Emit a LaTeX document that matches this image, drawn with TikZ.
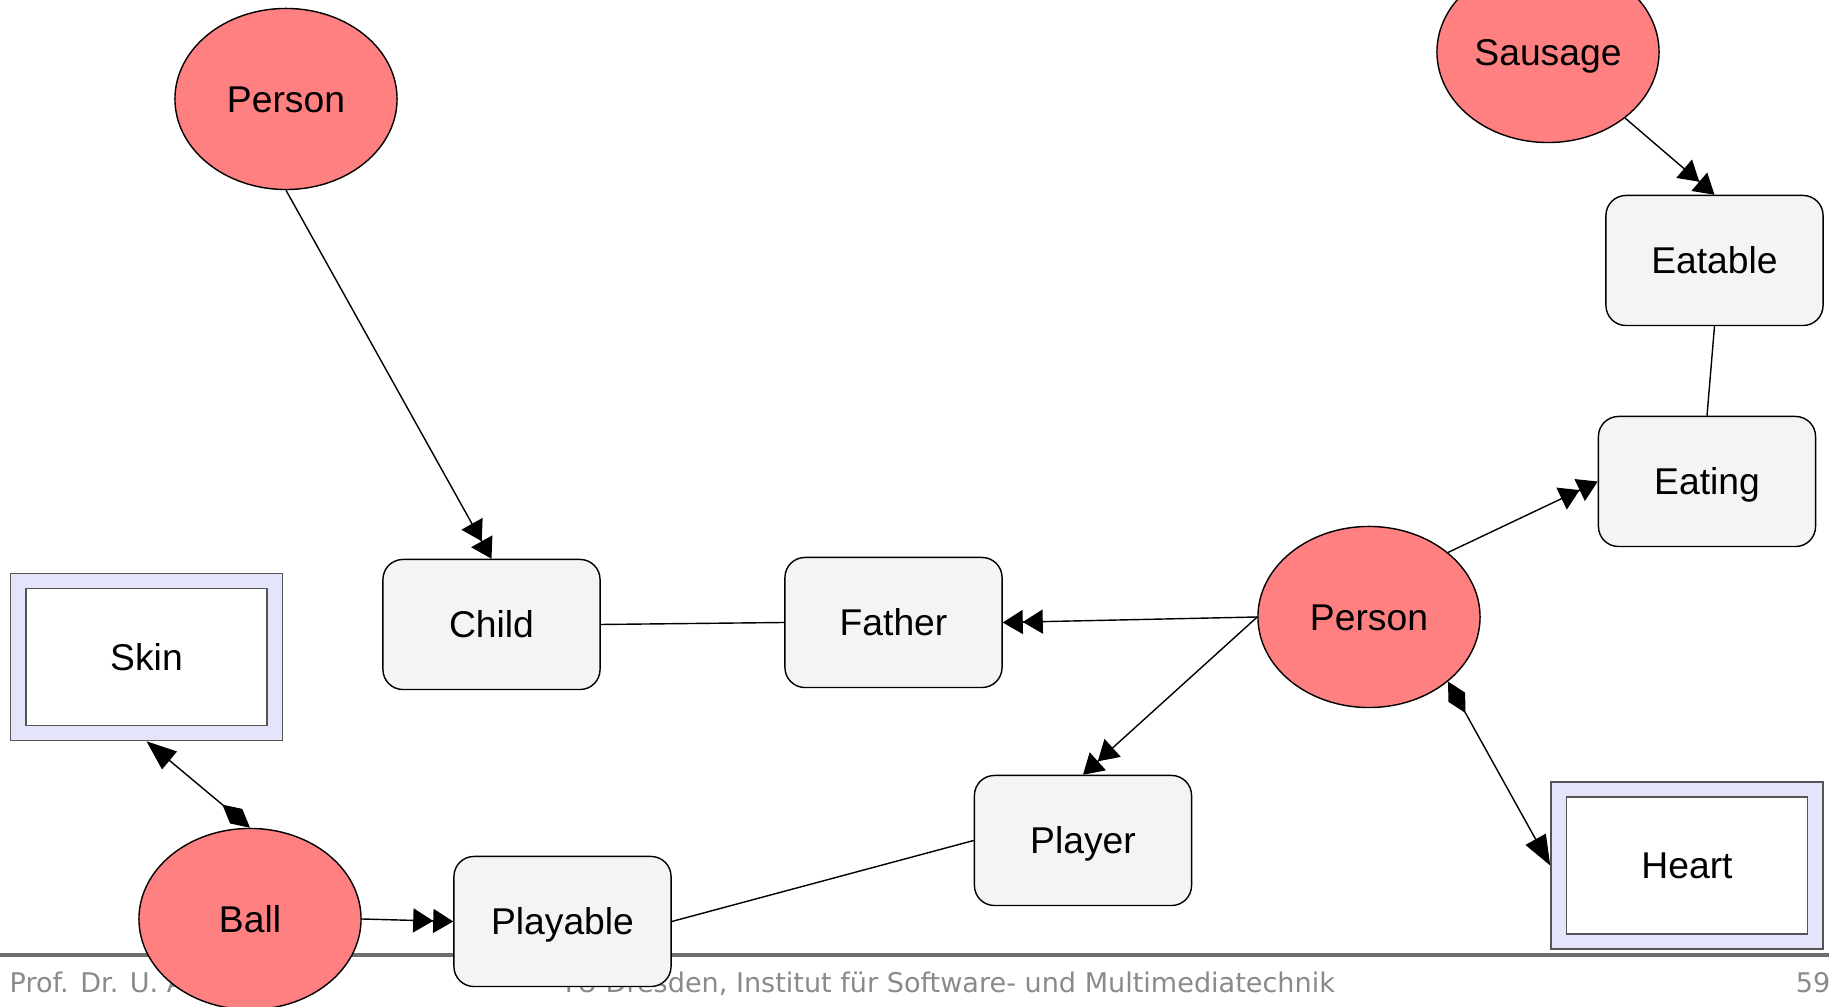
\documentclass[tikz,border=0pt]{standalone}
\usepackage{fontspec}
\setmainfont{Liberation Sans}
\newfontfamily\footfont{DejaVu Sans}
\usetikzlibrary{positioning, arrows.meta, shapes.geometric}
\definecolor{natural}{HTML}{FF8080}
\definecolor{rolegray}{HTML}{F4F4F4}
\definecolor{partlila}{HTML}{E4E4FA}
\definecolor{partline}{HTML}{555555}
\definecolor{footgray}{HTML}{8A8A8A}
\definecolor{rulegray}{HTML}{6E6E6E}

\begin{document}
\begin{tikzpicture}[x=0.01cm, y=-0.01cm, line width=0.4pt,
  font=\fontsize{10.6}{12}\selectfont,
  every node/.append style={text height=7.6pt, text depth=0pt},
  nat/.style={ellipse, draw, fill=natural, inner sep=0pt, minimum width=2.22cm, minimum height=1.81cm},
  role/.style={rectangle, rounded corners=0.2cm, draw, fill=rolegray, minimum width=2.17cm, minimum height=1.3cm},
  part/.style={rectangle, draw=partline, fill=partlila, minimum width=2.72cm, minimum height=1.67cm},
  partin/.style={rectangle, draw=partline, fill=white, minimum width=2.41cm, minimum height=1.37cm},
  foot/.style={inner sep=0pt, text=footgray, font=\footfont\fontsize{7.7}{10}\selectfont},
  plays/.style={-{Triangle[length=2mm,width=2.4mm,sep=0pt]Triangle[length=2mm,width=2.4mm]}},
  haspart/.style={{Diamond[length=3.6mm,width=1.9mm]}-{Triangle[length=3mm,width=2.3mm]}}]
  \useasboundingbox (0,0) rectangle (1829,1007);
  \clip (0,0) rectangle (1829,1007);

  % slide footer
  \fill[rulegray] (0,953) rectangle (1829,957);
  \node[foot, anchor=base west] (author) at (9,993) {Prof. Dr. U. Aßmann};
  \node[foot, anchor=base west] (inst) at (560,993) {TU Dresden, Institut für Software- und Multimediatechnik};
  \node[foot, anchor=base east] (page) at (1831,993) {59};

  % natural types
  \node[nat] (p1) at (286,99) {Person};
  \node[nat] (sausage) at (1548,52) {Sausage};
  \node[nat] (p2) at (1369,617) {Person};
  \node[nat] (ball) at (250,919) {Ball};

  % role types
  \node[role] (eatable) at (1714.5,260.5) {Eatable};
  \node[role] (eating) at (1707,481.5) {Eating};
  \node[role] (child) at (491.5,624.5) {Child};
  \node[role] (father) at (893.5,622.5) {Father};
  \node[role] (player) at (1083,840.5) {Player};
  \node[role] (playable) at (562.5,921.5) {Playable};

  % parts
  \node[part] (skin) at (146.5,657) {};
  \node[partin] (skinin) at (skin) {Skin};
  \node[part] (heart) at (1687,865.5) {};
  \node[partin] (heartin) at (heart) {Heart};

  \draw[plays] (p1.south) -- (child.north);
  \draw[plays] (sausage) -- (eatable.north);
  \draw (eatable.south) -- (eating.north);
  \draw[plays] (p2.north east) -- (eating.west);
  \draw[plays] (p2.west) -- (father.east);
  \draw (child.east) -- (father.west);
  \draw[plays] (p2.west) -- (player.north);
  \draw (player.west) -- (playable.east);
  \draw[plays] (ball.east) -- (playable.west);
  \draw[haspart] (ball.north) -- (skin.south);
  \draw[haspart] (p2.south east) -- (heart.west);
\end{tikzpicture}
\end{document}
